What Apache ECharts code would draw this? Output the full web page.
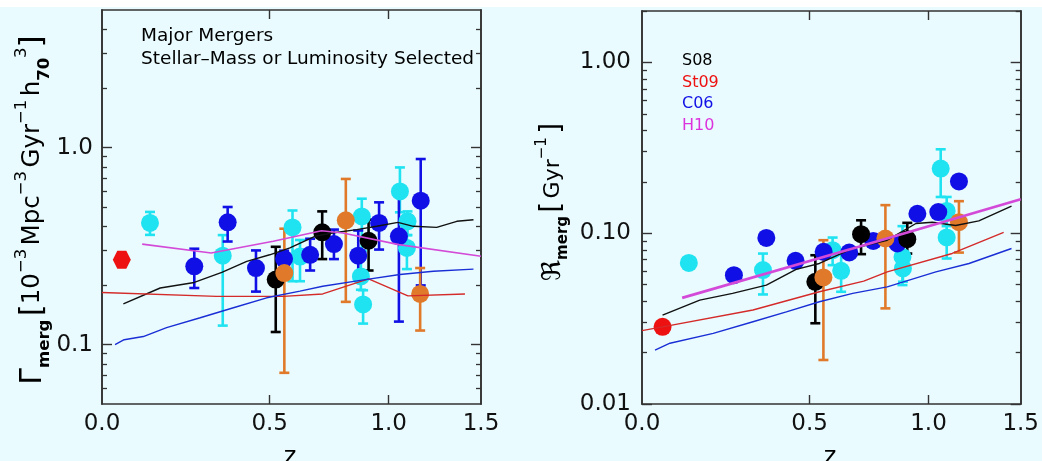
<!DOCTYPE html>
<html><head><meta charset="utf-8">
<script src="https://cdn.jsdelivr.net/npm/echarts@6/dist/echarts.min.js"></script>
<style>html,body{margin:0;padding:0;background:#e9fbfe;}#c{width:1042px;height:461px;}</style>
</head><body><div id="c"></div>
<script>
// ---------- tick labels ----------
const xTickValues = [0.0, 0.5, 1.0, 1.5];
const xTickLabels = ['0.0', '0.5', '1.0', '1.5'];
const leftYTickValues = [0.1, 1.0];
const leftYTickLabels = ['0.1', '1.0'];
const rightYTickValues = [0.01, 0.1, 1.0];
const rightYTickLabels = ['0.01', '0.10', '1.00'];
const leftYMinor = [0.06, 0.07, 0.08, 0.09, 0.2, 0.3, 0.4, 0.5, 0.6, 0.7, 0.8, 0.9, 2, 3, 4];
const rightYMinor = [0.02, 0.03, 0.04, 0.05, 0.06, 0.07, 0.08, 0.09, 0.2, 0.3, 0.4, 0.5, 0.6, 0.7, 0.8, 0.9, 2];

// ---------- LEFT panel: merger rate density ----------
const L_cyan_z  = [0.123, 0.339, 0.585, 0.614, 0.874, 0.870, 0.880, 1.055, 1.093, 1.090];
const L_cyan_v  = [0.415, 0.283, 0.394, 0.280, 0.448, 0.222, 0.160, 0.600, 0.423, 0.310];
const L_cyan_lo = [0.361, 0.125, 0.210, 0.210, 0.300, 0.190, 0.128, 0.470, 0.360, 0.242];
const L_cyan_hi = [0.472, 0.360, 0.480, 0.340, 0.551, 0.270, 0.189, 0.794, 0.475, 0.360];

const L_blue_z  = [0.250, 0.355, 0.451, 0.553, 0.654, 0.752, 0.858, 0.954, 1.050, 1.161];
const L_blue_v  = [0.250, 0.418, 0.245, 0.273, 0.286, 0.324, 0.283, 0.415, 0.355, 0.538];
const L_blue_lo = [0.194, 0.334, 0.186, 0.250, 0.238, 0.272, 0.222, 0.304, 0.131, 0.200];
const L_blue_hi = [0.307, 0.500, 0.301, 0.300, 0.345, 0.384, 0.380, 0.528, 0.577, 0.876];

const L_black_z  = [0.522, 0.703, 0.905];
const L_black_v  = [0.214, 0.372, 0.337];
const L_black_lo = [0.116, 0.272, 0.238];
const L_black_hi = [0.314, 0.475, 0.431];

const L_orange_z  = [0.554, 0.803, 1.158];
const L_orange_v  = [0.231, 0.428, 0.181];
const L_orange_lo = [0.072, 0.165, 0.118];
const L_orange_hi = [0.388, 0.694, 0.245];

const L_red_z = [0.049];
const L_red_v = [0.270];

const L_S08_z = [0.053, 0.151, 0.250, 0.336, 0.419, 0.500, 0.575, 0.673, 0.745, 0.851, 0.943, 1.045, 1.123, 1.246, 1.358, 1.455];
const L_S08_v = [0.161, 0.194, 0.207, 0.233, 0.265, 0.286, 0.310, 0.355, 0.369, 0.384, 0.399, 0.418, 0.399, 0.394, 0.423, 0.431];
const L_St09_z = [0.000, 0.319, 0.550, 0.705, 0.905, 1.095, 1.405];
const L_St09_v = [0.184, 0.176, 0.176, 0.181, 0.216, 0.177, 0.181];
const L_C06_z = [0.032, 0.055, 0.105, 0.169, 0.268, 0.374, 0.489, 0.614, 0.705, 0.890, 1.055, 1.228, 1.455];
const L_C06_v = [0.100, 0.106, 0.110, 0.122, 0.137, 0.154, 0.173, 0.187, 0.198, 0.214, 0.227, 0.236, 0.242];
const L_H10_z = [0.102, 0.302, 0.513, 0.700, 0.790, 1.050, 1.500];
const L_H10_v = [0.324, 0.292, 0.335, 0.379, 0.369, 0.322, 0.281];

// ---------- RIGHT panel: fractional merger rate ----------
const R_cyan_z  = [0.120, 0.340, 0.586, 0.619, 0.878, 0.880, 1.060, 1.090, 1.090];
const R_cyan_v  = [0.0670, 0.0608, 0.0796, 0.0602, 0.0726, 0.0622, 0.239, 0.135, 0.0944];
const R_cyan_lo = [null, 0.0438, 0.0650, 0.0454, 0.0497, 0.0520, 0.163, 0.110, 0.0711];
const R_cyan_hi = [null, 0.0760, 0.0943, 0.0750, 0.110, 0.0750, 0.310, 0.163, 0.120];

const R_blue_z  = [0.249, 0.351, 0.450, 0.552, 0.651, 0.750, 0.855, 0.947, 1.048, 1.153];
const R_blue_v  = [0.0568, 0.0939, 0.0689, 0.0778, 0.0771, 0.0901, 0.0871, 0.130, 0.133, 0.201];
const R_blue_lo = [0.0530, null, null, null, null, null, null, null, null, null];
const R_blue_hi = [0.0610, null, null, null, null, null, null, null, null, null];

const R_black_z  = [0.521, 0.699, 0.900];
const R_black_v  = [0.0519, 0.0987, 0.0922];
const R_black_lo = [0.0297, 0.0754, 0.0760];
const R_black_hi = [0.0743, 0.119, 0.115];

const R_orange_z  = [0.551, 0.802, 1.153];
const R_orange_v  = [0.0551, 0.0931, 0.116];
const R_orange_lo = [0.0181, 0.0363, 0.077];
const R_orange_hi = [0.091, 0.146, 0.154];

const R_red_z = [0.051];
const R_red_v = [0.0283];

const R_S08_z = [0.051, 0.150, 0.245, 0.351, 0.452, 0.536, 0.665, 0.810, 0.940, 1.019, 1.136, 1.259, 1.445];
const R_S08_v = [0.0331, 0.0406, 0.0444, 0.0497, 0.0614, 0.0665, 0.0814, 0.091, 0.114, 0.116, 0.111, 0.118, 0.144];
const R_St09_z = [0.000, 0.051, 0.308, 0.536, 0.710, 0.810, 1.118, 1.399];
const R_St09_v = [0.0269, 0.0283, 0.0355, 0.0454, 0.0524, 0.0594, 0.0761, 0.101];
const R_C06_z = [0.032, 0.070, 0.188, 0.308, 0.418, 0.536, 0.665, 0.810, 1.036, 1.206, 1.445];
const R_C06_v = [0.0207, 0.0227, 0.0259, 0.0303, 0.0346, 0.0397, 0.0444, 0.0485, 0.0594, 0.0665, 0.0814];
const R_H10_z = [0.102, 0.665, 1.500];
const R_H10_v = [0.0418, 0.0814, 0.158];

const legendNames = ['S08', 'St09', 'C06', 'H10'];

// ---------- styling ----------
const C = {cyan:'#1fe3f0', blue:'#1010e6', black:'#000000', orange:'#e07a2a', red:'#ee1111',
  lS08:'#111111', lSt09:'#d42a2a', lC06:'#1a2ed6', lH10:'#d44ad8'};
const FONT = 'DejaVu Sans';
const AX = '#333333';

// axis is log(1+z): data is shifted by one for the library's log scale
const sx = z => 1 + z;
const pts = (zs, vs) => zs.map((z, i) => [sx(z), vs[i]]);
const errs = (zs, lo, hi) => zs.map((z, i) => [sx(z), lo[i], hi[i]]).filter(d => d[1] != null);

function errSeries(name, data, color, xi, yi) {
  return {
    type: 'custom', name, xAxisIndex: xi, yAxisIndex: yi, data, z: 2, silent: true,
    renderItem(params, api) {
      const a = api.coord([api.value(0), api.value(1)]);
      const b = api.coord([api.value(0), api.value(2)]);
      const hw = 5;
      const st = {stroke: color, lineWidth: 2.6};
      return {type: 'group', children: [
        {type: 'line', shape: {x1: a[0], y1: a[1], x2: b[0], y2: b[1]}, style: st},
        {type: 'line', shape: {x1: a[0]-hw, y1: a[1], x2: a[0]+hw, y2: a[1]}, style: st},
        {type: 'line', shape: {x1: b[0]-hw, y1: b[1], x2: b[0]+hw, y2: b[1]}, style: st}
      ]};
    }
  };
}
function ptSeries(name, data, color, xi, yi, symbol) {
  return {type: 'scatter', name, xAxisIndex: xi, yAxisIndex: yi, data, z: 3, silent: true,
    symbol: symbol || 'circle', symbolSize: 18, itemStyle: {color, opacity: 1}};
}
function lineSeries(name, data, color, xi, yi, w) {
  return {type: 'line', name, xAxisIndex: xi, yAxisIndex: yi, data, z: 5, silent: true,
    showSymbol: false, symbol: 'none', lineStyle: {color, width: w || 1.5}};
}
const HEX = 'path://M-1,0 L-0.5,-0.866 L0.5,-0.866 L1,0 L0.5,0.866 L-0.5,0.866 Z';

function xAxes(gi, showLabel, pos) {
  return {
    type: 'log', logBase: 10, gridIndex: gi, position: pos, min: sx(0), max: sx(1.5),
    axisLine: {show: true, lineStyle: {color: AX, width: 1.6}},
    splitLine: {show: false},
    axisTick: {show: true, inside: true, length: 9, lineStyle: {color: AX, width: 1.4},
      customValues: [sx(0.5), sx(1.0)]},
    axisLabel: {show: showLabel, customValues: xTickValues.map(sx), margin: 9,
      fontFamily: FONT, fontSize: 23, color: '#111',
      formatter: v => xTickLabels[xTickValues.findIndex(t => Math.abs(sx(t) - v) < 1e-6)] || ''}
  };
}
function yAxes(gi, pos, min, max, ticks, labels, minor, showLabel, margin) {
  const base = {type: 'log', logBase: 10, gridIndex: gi, position: pos, min, max,
    splitLine: {show: false}, axisLine: {show: true, lineStyle: {color: AX, width: 1.6}}};
  return [
    Object.assign({}, base, {
      axisTick: {show: true, inside: true, length: 10, lineStyle: {color: AX, width: 1.4}, customValues: ticks},
      axisLabel: {show: showLabel, customValues: ticks, margin, fontFamily: FONT, fontSize: 23, color: '#111',
        formatter: v => labels[ticks.findIndex(t => Math.abs(t - v) < 1e-9)] || ''}
    }),
    Object.assign({}, base, {
      axisTick: {show: true, inside: true, length: 5, lineStyle: {color: AX, width: 1.3}, customValues: minor},
      axisLabel: {show: false}
    })
  ];
}

const yL = [].concat(
  yAxes(0, 'left', 0.05, 5, leftYTickValues, leftYTickLabels, leftYMinor, true, 9),
  yAxes(0, 'right', 0.05, 5, leftYTickValues, leftYTickLabels, leftYMinor, false, 9));
const yR = [].concat(
  yAxes(1, 'left', 0.01, 2, rightYTickValues, rightYTickLabels, rightYMinor, true, 11),
  yAxes(1, 'right', 0.01, 2, rightYTickValues, rightYTickLabels, rightYMinor, false, 11));

const series = [
  // left panel (x 0, y 0)
  errSeries('Lc', errs(L_cyan_z, L_cyan_lo, L_cyan_hi), C.cyan, 0, 0),
  ptSeries('Lc', pts(L_cyan_z, L_cyan_v), C.cyan, 0, 0),
  errSeries('Lb', errs(L_blue_z, L_blue_lo, L_blue_hi), C.blue, 0, 0),
  ptSeries('Lb', pts(L_blue_z, L_blue_v), C.blue, 0, 0),
  errSeries('Lk', errs(L_black_z, L_black_lo, L_black_hi), C.black, 0, 0),
  ptSeries('Lk', pts(L_black_z, L_black_v), C.black, 0, 0),
  errSeries('Lo', errs(L_orange_z, L_orange_lo, L_orange_hi), C.orange, 0, 0),
  ptSeries('Lo', pts(L_orange_z, L_orange_v), C.orange, 0, 0),
  ptSeries('Lr', pts(L_red_z, L_red_v), C.red, 0, 0, HEX),
  lineSeries('S08', pts(L_S08_z, L_S08_v), C.lS08, 0, 0, 1.4),
  lineSeries('St09', pts(L_St09_z, L_St09_v), C.lSt09, 0, 0, 1.4),
  lineSeries('C06', pts(L_C06_z, L_C06_v), C.lC06, 0, 0, 1.4),
  lineSeries('H10', pts(L_H10_z, L_H10_v), C.lH10, 0, 0, 1.6),
  // right panel (x 2, y 4)
  errSeries('Rc', errs(R_cyan_z, R_cyan_lo, R_cyan_hi), C.cyan, 2, 4),
  ptSeries('Rc', pts(R_cyan_z, R_cyan_v), C.cyan, 2, 4),
  errSeries('Rb', errs(R_blue_z, R_blue_lo, R_blue_hi), C.blue, 2, 4),
  ptSeries('Rb', pts(R_blue_z, R_blue_v), C.blue, 2, 4),
  errSeries('Rk', errs(R_black_z, R_black_lo, R_black_hi), C.black, 2, 4),
  ptSeries('Rk', pts(R_black_z, R_black_v), C.black, 2, 4),
  errSeries('Ro', errs(R_orange_z, R_orange_lo, R_orange_hi), C.orange, 2, 4),
  ptSeries('Ro', pts(R_orange_z, R_orange_v), C.orange, 2, 4),
  ptSeries('Rr', pts(R_red_z, R_red_v), C.red, 2, 4),
  lineSeries('S08', pts(R_S08_z, R_S08_v), C.lS08, 2, 4, 1.4),
  lineSeries('St09', pts(R_St09_z, R_St09_v), C.lSt09, 2, 4, 1.4),
  lineSeries('C06', pts(R_C06_z, R_C06_v), C.lC06, 2, 4, 1.4),
  lineSeries('H10', pts(R_H10_z, R_H10_v), C.lH10, 2, 4, 2.8)
];

const legendColors = [C.black, C.red, C.blue, '#dd33dd'];
const graphic = [
  {type: 'rect', shape: {x: 0, y: 0, width: 1042, height: 7}, style: {fill: '#ffffff'}, z: -1},
  {type: 'text', x: 141, y: 36, style: {text: 'Major Mergers', font: '18.5px "DejaVu Sans"', fill: '#000', verticalAlign: 'middle'}},
  {type: 'text', x: 141, y: 59, style: {text: 'Stellar\u2013Mass or Luminosity Selected', font: '18.5px "DejaVu Sans"', fill: '#000', verticalAlign: 'middle'}},
  // left y title
  {type: 'text', x: 33, y: 210, rotation: Math.PI / 2, style: {
    text: '{g|\u0393}{sb|merg} {br|[}{m|10}{sp|\u22123} {m|Mpc}{sp|\u22123} {m|Gyr}{sp|\u22121} {m|h}{sb|70}{sp|3}{br|]}',
    align: 'center', verticalAlign: 'middle', fill: '#000',
    rich: {
      g: {fontFamily: FONT, fontSize: 30, lineHeight: 40, verticalAlign: 'middle'},
      m: {fontFamily: FONT, fontSize: 24.5, lineHeight: 40, verticalAlign: 'middle'},
      br: {fontFamily: FONT, fontSize: 31, lineHeight: 40, verticalAlign: 'middle'},
      sp: {fontFamily: FONT, fontSize: 16.5, lineHeight: 16, verticalAlign: 'top'},
      sb: {fontFamily: FONT, fontSize: 16.5, fontWeight: 'bold', lineHeight: 16, verticalAlign: 'bottom'}
    }}},
  // right y title
  {type: 'text', x: 553, y: 202, rotation: Math.PI / 2, style: {
    text: '{g|\u211C}{sb|merg} {br|[} {m|Gyr}{sp|\u22121} {br|]}',
    align: 'center', verticalAlign: 'middle', fill: '#000',
    rich: {
      g: {fontFamily: FONT, fontSize: 26, lineHeight: 36, verticalAlign: 'middle'},
      m: {fontFamily: FONT, fontSize: 22, lineHeight: 36, verticalAlign: 'middle'},
      br: {fontFamily: FONT, fontSize: 28, lineHeight: 36, verticalAlign: 'middle'},
      sp: {fontFamily: FONT, fontSize: 15, lineHeight: 15, verticalAlign: 'top'},
      sb: {fontFamily: FONT, fontSize: 15, fontWeight: 'bold', lineHeight: 15, verticalAlign: 'bottom'}
    }}},
  {type: 'text', x: 290, y: 446, style: {text: 'z', font: '24px "DejaVu Sans"', fill: '#000', align: 'center', verticalAlign: 'top'}},
  {type: 'text', x: 830, y: 446, style: {text: 'z', font: '24px "DejaVu Sans"', fill: '#000', align: 'center', verticalAlign: 'top'}}
].concat(legendNames.map((n, i) => ({type: 'text', x: 682, y: 61 + i * 21.5,
  style: {text: n, font: '16px "DejaVu Sans"', fill: legendColors[i], verticalAlign: 'middle'}})));

const chart = echarts.init(document.getElementById('c'), null, {renderer: 'canvas'});
chart.setOption({
  backgroundColor: '#e9fbfe',
  animation: false,
  grid: [
    {left: 102, top: 10, width: 379, height: 394, containLabel: false},
    {left: 642, top: 11, width: 380, height: 393, containLabel: false}
  ],
  xAxis: [xAxes(0, true, 'bottom'), xAxes(0, false, 'top'), xAxes(1, true, 'bottom'), xAxes(1, false, 'top')],
  yAxis: yL.concat(yR),
  series,
  graphic
});
</script></body></html>
